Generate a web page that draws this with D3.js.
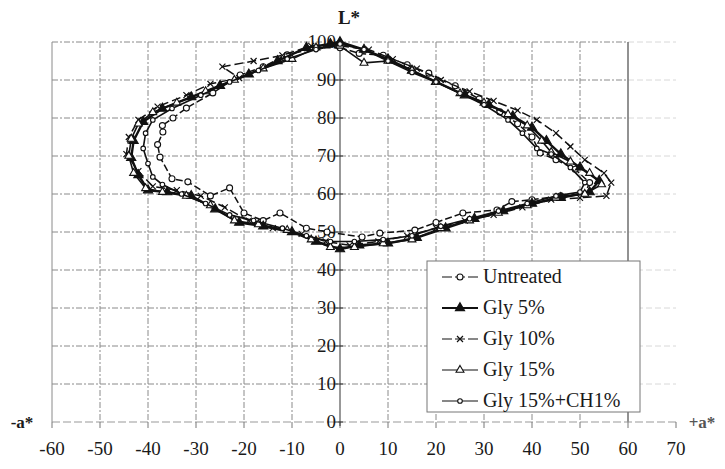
<!DOCTYPE html>
<html>
<head>
<meta charset="utf-8">
<script src="https://cdn.jsdelivr.net/npm/d3@7"></script>
<style>
	body { margin: 0; background: #fff; }
</style>
</head>
<body>
<div id="chart"></div>
<script>
// a*, L* pairs, one list per sample
var untreated = [[0,98.5],[4,97],[9,96.5],[14,94],[18.5,91.8],[24,88.5],[29,85],[33.3,81.6],[37,78.5],[40,75],[41.7,70.8],[45,69],[49,66.5],[52,63],[51,60],[46,59.5],[40,58.5],[35.8,58],[32.7,55.8],[25.6,55],[20,52.5],[15.6,50.5],[8.3,49.7],[4.6,48.7],[-2.7,50],[-7,51],[-12.5,55],[-16,53],[-20,55],[-23,61.6],[-27,59.5],[-31.7,63.2],[-35,64],[-37.5,69.7],[-38,73],[-36.9,76.3],[-37,78],[-34.8,80],[-32,82.6],[-26.5,86.6],[-20.8,91.3],[-16,93.5],[-11,96.6],[-5,98.5],[0,98.5]];
var gly5 = [[0,100],[5,98],[10,95.5],[15,92.5],[20,89.5],[26,86],[31,83.5],[36,80.5],[40,77.5],[43,74],[46,70.5],[50,67],[54,63.5],[52,60.5],[46,59],[40,57.5],[34,55.5],[28,53.5],[22,51],[16,48.5],[10,47],[4,46.5],[0,45.5],[-5,47.5],[-10,50],[-16,51.5],[-21,52.5],[-26,56],[-31,59.5],[-36,60.5],[-40,61],[-42,65],[-43.5,69.5],[-43,74],[-41,79],[-37,82.5],[-31,85.5],[-25,88.5],[-19,91.5],[-13,95],[-7,98.5],[-2,99.5],[0,100]];
var gly10 = [[0,99],[6,98],[11,95.5],[16,93],[21,90],[27,87],[32,84.5],[37,82],[41,79.5],[45,76],[48,72.5],[51,69],[55,65.5],[56.5,63],[55.5,59.5],[50,59],[44,58.5],[38,56.5],[32,54.5],[26,53],[20,51],[14,49],[8,47.5],[2,46.5],[-3,47.5],[-8,49.5],[-14,51],[-19,53],[-24,56.5],[-29,59.5],[-34,61],[-39,62],[-42,66],[-44.5,70.5],[-44,75],[-42,79.5],[-38,83],[-32,86],[-27,89],[-21,90.5],[-24.5,93.5],[-18,95],[-12,96.5],[-6,99],[0,99]];
var gly15 = [[0,99],[5,94.5],[10,95],[15,92.5],[20,89.5],[25,86.5],[30,84],[35,81],[39,78],[42,74],[44,71],[48,68.5],[52,65.5],[54.5,62.5],[51,60],[45,59],[39,57],[33,55],[27,53],[21,51],[15,48],[9,47],[3,46],[-2,46],[-6,48],[-11,50.5],[-17,52],[-22,53],[-27,57],[-32,59.5],[-37,60.5],[-40.5,61.5],[-43,65.5],[-44,70],[-43.5,74.5],[-42,78.5],[-39,81.5],[-34,84],[-28,87],[-22,90],[-16,93],[-10,95.5],[-5,98.5],[0,99]];
var gly15ch1 = [[0,99.5],[5,98],[10,95],[15,92],[20,89.5],[25,86.5],[30,83.5],[35,79.5],[38,76],[41,72],[44,70.5],[48,67],[51,63],[50,60.5],[45,59.5],[39,57.5],[33,55.5],[27,53.5],[21,51.5],[15,49],[9,48],[3,47.5],[-2,47.5],[-7,49],[-12,51],[-18,53],[-23,54.5],[-28,57.5],[-33,60],[-37,62.5],[-39,64.5],[-40,68],[-41,72],[-40.5,76],[-39,79.5],[-35,82.5],[-29,86],[-23,89.5],[-17,92.5],[-11,95.5],[-5,98],[0,99.5]];

var seriesNames = ["Untreated", "Gly 5%", "Gly 10%", "Gly 15%", "Gly 15%+CH1%"];
var xTicks = [-60,-50,-40,-30,-20,-10,0,10,20,30,40,50,60,70];
var yTicks = [0,10,20,30,40,50,60,70,80,90,100];

var width = 725, height = 469;

var svg = d3.select("#chart").append("svg")
	.attr("width", width)
	.attr("height", height)
	.attr("font-family", "Liberation Serif");

var x = d3.scaleLinear().domain([-60, 70]).range([52, 676]);
var y = d3.scaleLinear().domain([0, 100]).range([422, 42]);

// grid
var grid = svg.append("g").attr("class", "grid");
yTicks.filter(function(t) { return t > 0; }).forEach(function(t) {
	grid.append("line")
		.attr("x1", x(-60)).attr("x2", x(60))
		.attr("y1", y(t)).attr("y2", y(t))
		.attr("stroke", "#8a8a8a").attr("stroke-width", 1)
		.attr("stroke-dasharray", "6,2,2,2");
	grid.append("line")
		.attr("x1", x(60)).attr("x2", x(70))
		.attr("y1", y(t)).attr("y2", y(t))
		.attr("stroke", "#d8d8d8").attr("stroke-width", 1)
		.attr("stroke-dasharray", "6,3");
});
xTicks.filter(function(t) { return t != 0 && t < 70; }).forEach(function(t) {
	grid.append("line")
		.attr("x1", x(t)).attr("x2", x(t))
		.attr("y1", y(100)).attr("y2", y(0))
		.attr("stroke", t == 60 ? "#777" : "#8a8a8a")
		.attr("stroke-width", t == 60 ? 1.6 : 1)
		.attr("stroke-dasharray", t == -60 || t == 60 ? null : "6,2,2,2");
});

// x axis along L* = 0
svg.append("line")
	.attr("x1", x(-60)).attr("x2", x(70))
	.attr("y1", y(0)).attr("y2", y(0))
	.attr("stroke", "#999").attr("stroke-dasharray", "8,3");
svg.append("g").selectAll("line").data(xTicks).join("line")
	.attr("x1", function(d) { return x(d); }).attr("x2", function(d) { return x(d); })
	.attr("y1", y(0)).attr("y2", y(0) + 6)
	.attr("stroke", "#777");
svg.append("g").selectAll("text").data(xTicks).join("text")
	.attr("x", function(d) { return x(d); })
	.attr("y", 455)
	.attr("text-anchor", "middle")
	.attr("font-size", 19)
	.attr("fill", "#1a1a1a")
	.text(function(d) { return d; });

// y axis along a* = 0
svg.append("line")
	.attr("x1", x(0)).attr("x2", x(0))
	.attr("y1", y(100)).attr("y2", y(0) + 4)
	.attr("stroke", "#333").attr("stroke-width", 1);
svg.append("g").selectAll("line").data(yTicks).join("line")
	.attr("x1", x(0) - 5).attr("x2", x(0) + 3)
	.attr("y1", function(d) { return y(d); }).attr("y2", function(d) { return y(d); })
	.attr("stroke", "#333");
svg.append("g").selectAll("text").data(yTicks).join("text")
	.attr("x", x(0) - 4)
	.attr("y", function(d) { return y(d) + 6; })
	.attr("text-anchor", "end")
	.attr("font-size", 19)
	.attr("fill", "#1a1a1a")
	.text(function(d) { return d; });

svg.append("text").attr("x", 349).attr("y", 24).attr("text-anchor", "middle")
	.attr("font-size", 19).attr("font-weight", "bold").attr("fill", "#1a1a1a").text("L*");
svg.append("text").attr("x", 22).attr("y", 428).attr("text-anchor", "middle")
	.attr("font-size", 17).attr("font-weight", "bold").attr("fill", "#1a1a1a").text("-a*");
svg.append("text").attr("x", 702).attr("y", 428).attr("text-anchor", "middle")
	.attr("font-size", 17).attr("font-weight", "bold").attr("fill", "#555").text("+a*");

// markers
var timesPath = function(s) {
	return "M" + (-s) + "," + (-s) + "L" + s + "," + s + "M" + (-s) + "," + s + "L" + s + "," + (-s);
};
var styles = [
	{ data: untreated, dash: "7,3", width: 1.5, marker: "circle", r: 3, fill: "#fff" },
	{ data: gly5, dash: null, width: 2.4, marker: "tri", r: 3.5, fill: "#111" },
	{ data: gly10, dash: "9,4", width: 1.5, marker: "times", r: 3, fill: "none" },
	{ data: gly15, dash: null, width: 1.6, marker: "tri", r: 3, fill: "#fff" },
	{ data: gly15ch1, dash: null, width: 1.6, marker: "circle", r: 2.3, fill: "#fff" }
];

var line = d3.line()
	.x(function(d) { return x(d[0]); })
	.y(function(d) { return y(d[1]); });

function drawMarker(g, st, px, py) {
	if(st.marker == "circle") {
		g.append("circle").attr("cx", px).attr("cy", py).attr("r", st.r)
			.attr("fill", st.fill).attr("stroke", "#111").attr("stroke-width", 1.1);
	} else if(st.marker == "tri") {
		g.append("path").attr("transform", "translate(" + px + "," + py + ")")
			.attr("d", d3.symbol().type(d3.symbolTriangle).size(st.r * st.r * 3)())
			.attr("fill", st.fill).attr("stroke", "#111").attr("stroke-width", 1.1);
	} else {
		g.append("path").attr("transform", "translate(" + px + "," + py + ")")
			.attr("d", timesPath(st.r))
			.attr("fill", "none").attr("stroke", "#111").attr("stroke-width", 1.2);
	}
}

var plot = svg.append("g").attr("class", "series");
styles.forEach(function(st) {
	plot.append("path")
		.datum(st.data)
		.attr("d", line)
		.attr("fill", "none")
		.attr("stroke", "#111")
		.attr("stroke-width", st.width)
		.attr("stroke-linejoin", "round")
		.attr("stroke-dasharray", st.dash);
	var mg = plot.append("g");
	st.data.slice(0, -1).forEach(function(d) {
		drawMarker(mg, st, x(d[0]), y(d[1]));
	});
});

// legend
var legend = svg.append("g").attr("class", "uv_legend");
legend.append("rect")
	.attr("x", 427).attr("y", 261).attr("width", 213).attr("height", 151)
	.attr("fill", "#fff").attr("stroke", "#777").attr("stroke-width", 1);
seriesNames.forEach(function(name, i) {
	var st = styles[i];
	var ly = 277 + i * 31;
	legend.append("line")
		.attr("x1", 442).attr("x2", 478).attr("y1", ly).attr("y2", ly)
		.attr("stroke", "#111").attr("stroke-width", i == 1 ? 2 : 1.2)
		.attr("stroke-dasharray", st.dash ? "10,3" : null);
	drawMarker(legend, st, 460, ly);
	legend.append("text")
		.attr("x", 483).attr("y", ly + 6)
		.attr("font-size", 20)
		.attr("fill", "#1a1a1a")
		.text(name);
});
</script>
</body>
</html>
